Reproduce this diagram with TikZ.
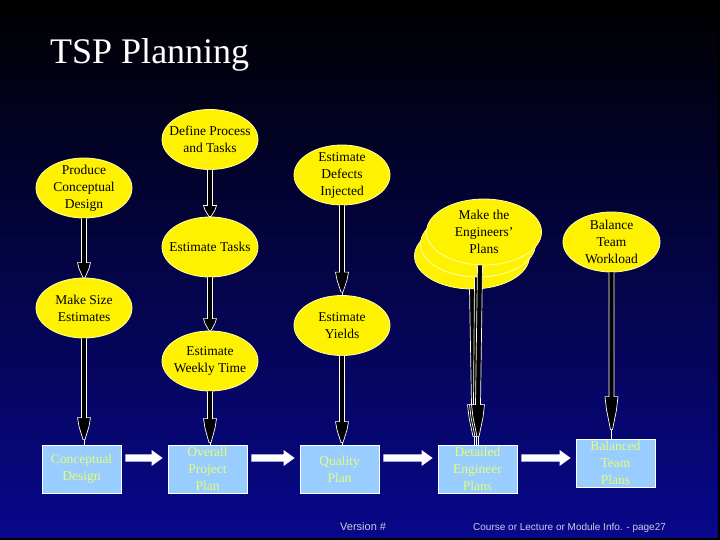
\documentclass[tikz,border=0pt]{standalone}
\usepackage{fontspec}
\setmainfont{Liberation Serif}
\newfontfamily\arialf{Liberation Sans}
\usetikzlibrary{calc,shapes.geometric}
\definecolor{ellline}{RGB}{255,255,170}
\definecolor{boxfill}{RGB}{153,204,255}
\definecolor{boxtext}{RGB}{228,255,115}
\definecolor{bgbottom}{RGB}{8,8,140}
\definecolor{foottext}{RGB}{205,205,225}
\newcommand\fatarrow[4]{%
 \path[fill=black,draw=white,line width=0.7pt] let \p1=#1, \p2=#2 in
 (\x1-2.5pt,\y1) -- (\x2-2.5pt,\y2+#3pt+#4pt) -- (\x2-6.5pt,\y2+#3pt+#4pt) -- (\x2-5pt,\y2+0.6*#3pt+#4pt) -- (\x2-1pt,\y2+#4pt) -- (\x2+1pt,\y2+#4pt) -- (\x2+5pt,\y2+0.6*#3pt+#4pt) -- (\x2+6.5pt,\y2+#3pt+#4pt) -- (\x2+2.5pt,\y2+#3pt+#4pt) -- (\x1+2.5pt,\y1);
 \draw[white,line width=1pt] let \p2=#2 in (\x2,\y2+#4pt) -- (\x2,\y2);}
\newcommand\blockarrow[2]{%
 \fill[white] let \p1=($(#1.east)+(4pt,11pt)$), \p2=(#2.west) in
 (\x1,\y1+3.7pt) -- (\x2-16pt,\y1+3.7pt) -- (\x2-16pt,\y1+8pt) -- (\x2-5pt,\y1) -- (\x2-16pt,\y1-8pt) -- (\x2-16pt,\y1-3.7pt) -- (\x1,\y1-3.7pt) -- cycle;}
\tikzset{
 ell/.style={ellipse, fill=yellow, draw=ellline, line width=0.8pt, minimum width=96pt, minimum height=60pt, inner sep=0pt},
 etxt/.style={align=center, font=\fontsize{13.5}{17}\selectfont, text=black, inner sep=0pt},
 bx/.style={rectangle, fill=boxfill, draw=white, line width=0.8pt, minimum width=79pt, minimum height=48pt, inner sep=0pt},
 btxt/.style={align=center, font=\fontsize{13.5}{17}\selectfont, text=boxtext, inner sep=0pt},
 foot/.style={anchor=base west, font=\arialf\fontsize{10}{12}\selectfont, text=foottext, inner sep=0pt}
}
\begin{document}
\begin{tikzpicture}[x=1pt,y=-1pt]
\useasboundingbox (0,0) rectangle (720,540);
\shade[top color=black, bottom color=bgbottom] (0,0) rectangle (720,540);
\fill[black] (718,0) rectangle (720,540);
\fill[black] (0,538) rectangle (720,540);
\node[anchor=base west, text=white, font=\fontsize{36}{40}\selectfont, inner sep=0pt] (title) at (50,64) {TSP Planning};
% ellipses
\node[ell] (dpt) at (210,139.5) {};
\node[etxt] (dpt-t) at (dpt) {Define Process\\and Tasks};
\node[ell] (pcd) at (84,188) {};
\node[etxt] (pcd-t) at (pcd) {Produce\\Conceptual\\Design};
\node[ell] (et) at (210,247) {};
\node[etxt] (et-t) at (et) {Estimate Tasks};
\node[ell] (msz) at (84,308) {};
\node[etxt] (msz-t) at (msz) {Make Size\\Estimates};
\node[ell] (ewt) at (210,361) {};
\node[etxt] (ewt-t) at (ewt) {Estimate\\Weekly Time};
\node[ell] (edi) at (342,175) {};
\node[etxt] (edi-t) at (edi) {Estimate\\Defects\\Injected};
\node[ell] (ey) at (342,325.5) {};
\node[etxt] (ey-t) at (ey) {Estimate\\Yields};
\node[ell, minimum width=115pt, minimum height=66pt] (ee3) at (472,256) {};
\node[ell, minimum width=115pt, minimum height=66pt] (ee2) at (478,244) {};
\node[ell, minimum width=115pt, minimum height=66pt] (ee1) at (484,232) {};
\node[etxt] (ee1-t) at (ee1) {Make the\\Engineers'\\Plans};
\node[ell, minimum width=97pt] (btw) at (611.5,242) {};
\node[etxt] (btw-t) at (btw) {Balance\\Team\\Workload};
% boxes
\node[bx] (cdb) at (81.5,469) {};
\node[btxt] (cdb-t) at (cdb) {Conceptual\\Design};
\node[bx] (opp) at (207.5,469) {};
\node[btxt] (opp-t) at (opp) {Overall\\Project\\Plan};
\node[bx] (qp) at (339.5,469) {};
\node[btxt] (qp-t) at (qp) {Quality\\Plan};
\node[bx] (dep) at (477.5,469) {};
\node[btxt] (dep-t) at (dep) {Detailed\\Engineer\\Plans};
\node[bx] (btp) at (615.5,463) {};
\node[btxt] (btp-t) at (btp) {Balanced\\Team\\Plans};
% vertical arrows
\fatarrow{(pcd.south)}{(pcd.south |- msz.north)}{15}{0}
\fatarrow{(dpt.south)}{(dpt.south |- et.north)}{11}{0}
\fatarrow{(et.south)}{(et.south |- ewt.north)}{12}{0}
\fatarrow{(msz.south)}{(msz.south |- cdb.north)}{22}{5}
\fatarrow{(ewt.south)}{(ewt.south |- opp.north)}{24}{2}
\fatarrow{(edi.south)}{(edi.south |- ey.north)}{20}{3}
\fatarrow{(ey.south)}{(ey.south |- qp.north)}{21}{2}
\fatarrow{($(ee3.south)+(0,0)$)}{($(dep.north)+(-3.5,0)$)}{32}{8}
\fatarrow{($(ee2.south)+(-1,0)$)}{($(dep.north)+(-1.5,0)$)}{32}{8}
\fatarrow{($(ee1.south)+(-4,0)$)}{($(dep.north)+(0.5,0)$)}{32}{8}
\fatarrow{(btw.south)}{(btw.south |- btp.north)}{33}{9}
% horizontal block arrows
\blockarrow{cdb}{opp}
\blockarrow{opp}{qp}
\blockarrow{qp}{dep}
\blockarrow{dep}{btp}
% footer
\node[foot, font=\arialf\fontsize{11}{12}\selectfont] (ver) at (340,530.5) {Version \#};
\node[foot] (info) at (473,530.5) {Course or Lecture or Module Info. - page27};
\end{tikzpicture}
\end{document}
